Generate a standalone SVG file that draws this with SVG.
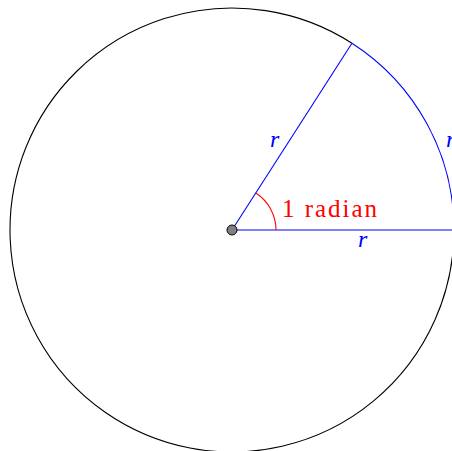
<svg xmlns="http://www.w3.org/2000/svg" width="452" height="451" viewBox="0 0 452 451">
<style>
.blue{stroke:#0000ff;stroke-width:1.1;fill:none}
.lbl{font-family:"Liberation Serif",serif;font-style:italic;font-size:24px;fill:#0000ff}
</style>
<rect width="452" height="451" fill="#fff"/>
<g id="circle">
<path d="M351.95,43.19 A222,222 0 1 0 454,230" fill="none" stroke="#000" stroke-width="1.1"/>
</g>
<g id="connectors">
<path class="blue" d="M454,230 A222,222 0 0 0 351.95,43.19"/>
<line class="blue" x1="232" y1="230" x2="454" y2="230"/>
<line class="blue" x1="232" y1="230" x2="351.95" y2="43.19"/>
<path d="M276,230 A44,44 0 0 0 255.77,192.97" fill="none" stroke="#ff0000" stroke-width="1.1"/>
</g>
<g id="center">
<circle cx="232" cy="230" r="5" fill="#808080" stroke="#000" stroke-width="1"/>
</g>
<g id="labels">
<text class="lbl" x="270" y="147">r</text>
<text class="lbl" x="358" y="247">r</text>
<text class="lbl" x="446" y="147">r</text>
<text x="282" y="217" font-family="Liberation Serif,serif" font-size="25" fill="#ff0000" textLength="95" lengthAdjust="spacing">1 radian</text>
</g>
</svg>
